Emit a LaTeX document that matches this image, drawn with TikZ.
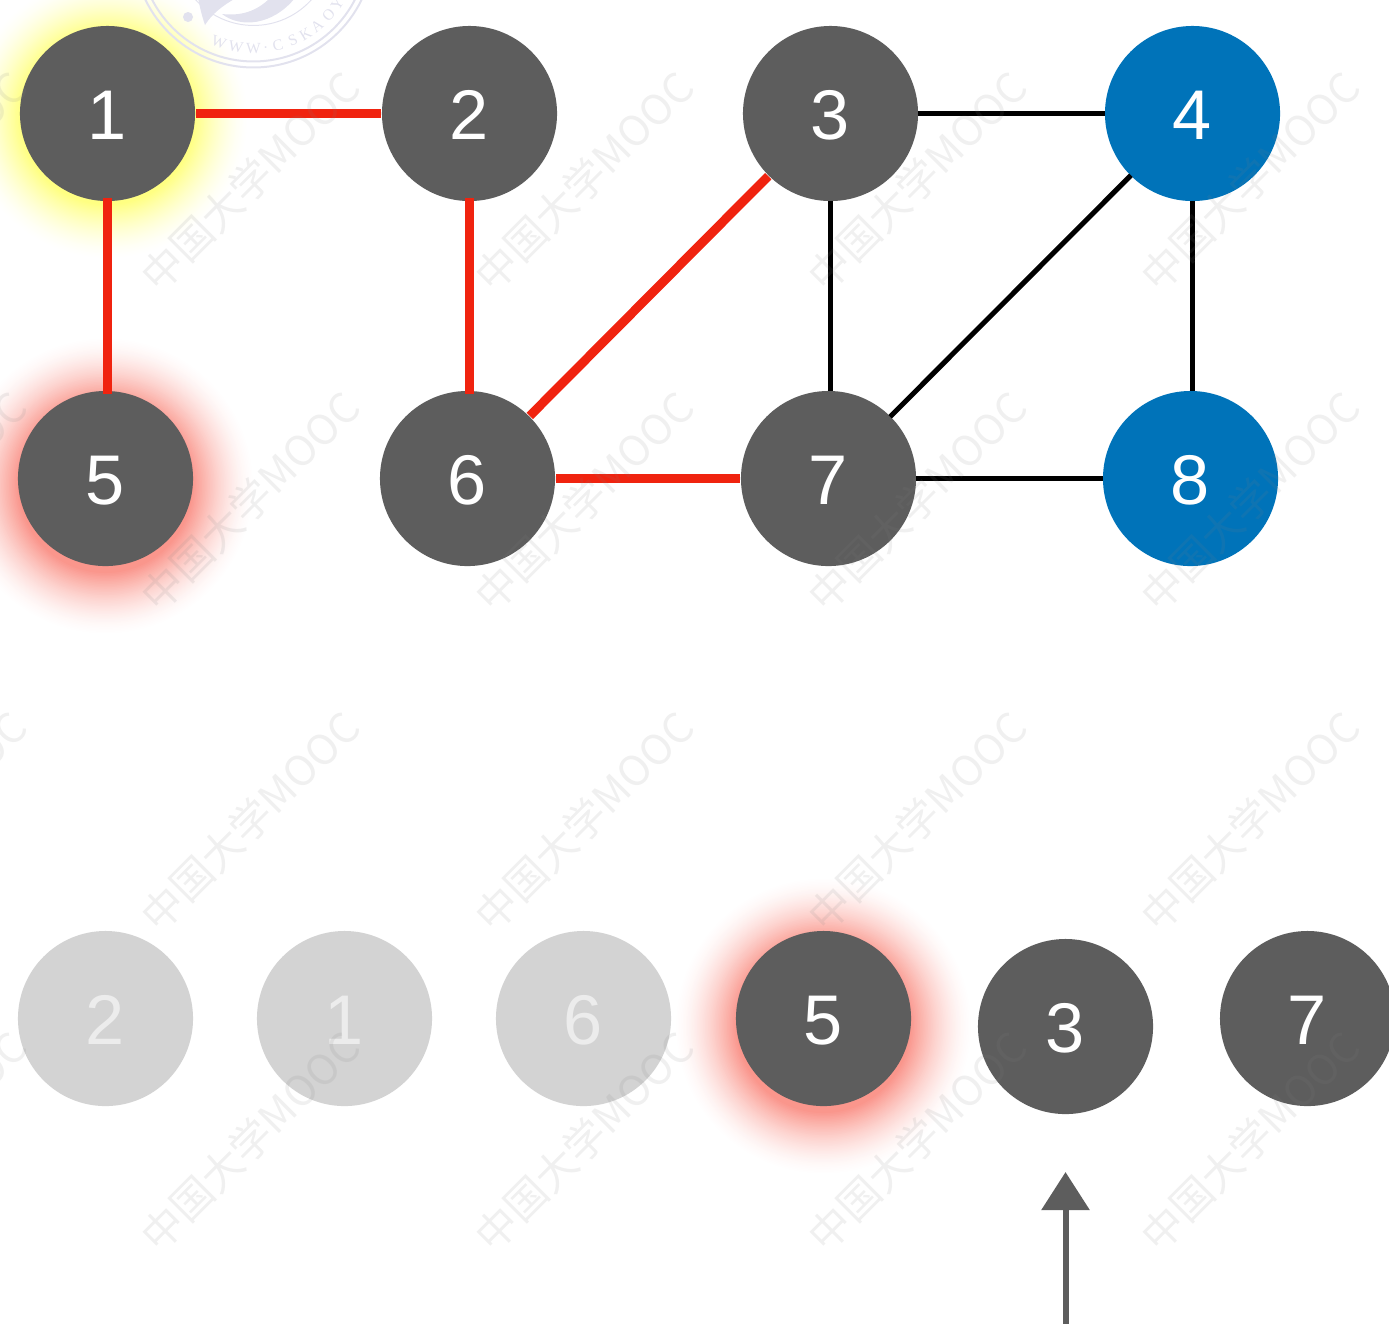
\documentclass[tikz,border=0pt]{standalone}
\usepackage{fontspec}
\setmainfont{Liberation Sans}
\newfontfamily\markfont{Noto Sans CJK SC}
\newfontfamily\sealfont{Liberation Serif}
\usetikzlibrary{arrows.meta}
\definecolor{nodegray}{RGB}{93,93,93}
\definecolor{fadegray}{RGB}{211,211,211}
\definecolor{fadetext}{RGB}{236,236,236}
\definecolor{nodeblue}{RGB}{0,115,185}
\definecolor{edgered}{RGB}{240,35,15}
\definecolor{sealcolor}{RGB}{226,226,238}
\definecolor{glowred}{RGB}{250,150,140}
\definecolor{glowyellow}{RGB}{255,255,130}
% #1 colour, #2 centre, #3 outer radius in px
\newcommand{\glowspot}[3]{
	\foreach \k in {0,...,40}{
		\pgfmathsetmacro{\r}{#3-\k*(#3-87)/40}
		\pgfmathsetmacro{\p}{100*(\k/40)^1.6}
		\fill[#1!\p!white] #2 circle ({\r*.01cm});
	}
}
\tikzset{
	vertex/.style={circle, minimum size=1.75cm, inner sep=0pt, text height=.52cm, text depth=0cm, fill=nodegray, text=white, font=\fontsize{20}{24}\selectfont},
	faded/.style={vertex, fill=fadegray, text=fadetext},
	target/.style={vertex, fill=nodeblue},
	redge/.style={edgered, line width=.09cm},
	bedge/.style={black, line width=.05cm, shorten <=-.01cm, shorten >=-.01cm},
	watermark/.style={rotate=45, gray, text opacity=.12, font=\markfont\fontsize{11.8}{14}\selectfont},
	sealtext/.style={sealcolor, inner sep=0pt, font=\sealfont\fontsize{4.4}{5}\selectfont}
}
\begin{document}
\begin{tikzpicture}[x=.01cm, y=-.01cm, line join=round, >=stealth]
	\clip (0,0) rectangle (1389,1323);
	% glows
	\glowspot{glowyellow}{(107.5,118)}{142}
	\glowspot{glowred}{(105.5,486)}{150}
	\glowspot{glowred}{(823.5,1026)}{150}
	% seal
	\def\sx{253.5} \def\sy{-52.6}
	\draw[sealcolor, line width=.02cm] (\sx,\sy) circle (1.2cm);
	\draw[sealcolor, line width=.02cm] (\sx,\sy) circle (1.14cm);
	\draw[sealcolor, line width=.01cm] (\sx,\sy) circle (.78cm);
	\fill[sealcolor] (188,17) circle (.05cm);
	\fill[sealcolor] (205,25) .. controls (212,14) and (222,6) .. (236,-2) -- (198,-2) .. controls (200,8) and (202,16) .. (205,25);
	\fill[sealcolor] (222,14) .. controls (240,28) and (272,26) .. (295,-2) -- (270,-2) .. controls (256,12) and (240,16) .. (222,14);
	\foreach \c/\a in {W/-20,W/-10,W/0,./7,C/14,S/23,K/31,A/39,O/48,Y/56}
		\node[sealtext] (seal\a) at ({\sx+101*sin(\a)},{\sy+101*cos(\a)}) [rotate=\a] {\c};
	% edges and vertices
	\foreach \name/\x/\y/\t/\s in {n1/107.5/113.5/1/vertex, n2/469.5/113.5/2/vertex, n3/830.5/113.5/3/vertex, n4/1192.5/113.5/4/target,
		n5/105.5/478.5/5/vertex, n6/467.5/478.5/6/vertex, n7/828.5/478.5/7/vertex, n8/1190.5/478.5/8/target,
		q2/105.5/1018.5/2/faded, q1/344.5/1018.5/1/faded, q6/583.5/1018.5/6/faded, q5/823.5/1018.5/5/vertex, q3/1065.5/1026.5/3/vertex, q7/1307.5/1018.5/7/vertex}
		\node[\s] (\name) at (\x,\y) {\t};
	\draw[redge] (n1)--(n2);
	\draw[redge] (n6)--(n7);
	\draw[redge] (n3)--(n6);
	\draw[redge, shorten <=-.04cm, shorten >=-.04cm] (n1.south)--(n1.south |- n5.north);
	\draw[redge, shorten <=-.04cm, shorten >=-.04cm, xshift=.01cm] (n2.south)--(n2.south |- n6.north);
	\draw[bedge] (n3)--(n4);
	\draw[bedge] (n7)--(n8);
	\draw[bedge] (n4)--(n7);
	\draw[bedge, xshift=.015cm] (n3.south)--(n3.south |- n7.north);
	\draw[bedge] (n4.south)--(n4.south |- n8.north);
	% pointer
	\coordinate (tail) at (1065.5,1330);
	\coordinate (tip) at (1065.5,1172);
	\draw[-{Triangle[width=.47cm,length=.38cm]}, nodegray, line width=.06cm] (tail)--(tip);
	% watermark
	\foreach \y in {181,501,821,1141}
		\foreach \x in {-83,250,584,917,1250}
			\node[watermark] (mark\x\y) at (\x,\y) {中国大学MOOC};
\end{tikzpicture}
\end{document}
